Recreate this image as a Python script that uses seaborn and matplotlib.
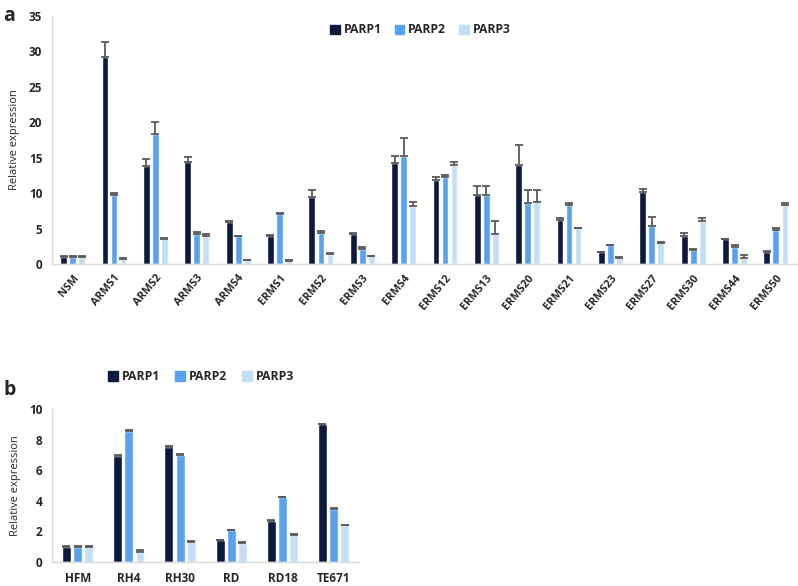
import matplotlib
matplotlib.use("Agg")
import matplotlib.pyplot as plt
import numpy as np
import pandas as pd
import seaborn as sns

# ---------------------------------------------------------------------------
# Data
# ---------------------------------------------------------------------------
SERIES = ["PARP1", "PARP2", "PARP3"]
COLORS = ["#0c1a3e", "#5aa2f0", "#c4def6"]

# panel a: tumour samples
samples_a = ["NSM", "ARMS1", "ARMS2", "ARMS3", "ARMS4", "ERMS1", "ERMS2", "ERMS3",
             "ERMS4", "ERMS12", "ERMS13", "ERMS20", "ERMS21", "ERMS23", "ERMS27",
             "ERMS30", "ERMS44", "ERMS50"]
parp1_a = [1.0, 29.2, 13.8, 14.4, 6.0, 4.0, 9.5, 4.3, 14.2, 11.9, 9.8, 14.0, 6.2,
           1.7, 10.2, 4.0, 3.5, 1.8]
parp2_a = [1.0, 9.7, 18.4, 4.2, 3.95, 7.1, 4.4, 2.2, 15.3, 12.3, 9.8, 8.6, 8.3,
           2.7, 5.4, 2.0, 2.45, 4.85]
parp3_a = [1.0, 0.75, 3.5, 4.05, 0.6, 0.5, 1.5, 1.15, 8.2, 14.0, 4.2, 8.8, 5.1,
           0.9, 3.0, 6.1, 0.9, 8.3]
err1_a = [0.15, 2.1, 1.1, 0.75, 0.05, 0.15, 0.95, 0.15, 1.1, 0.45, 1.25, 2.75, 0.3,
          0.1, 0.45, 0.45, 0.1, 0.05]
err2_a = [0.15, 0.3, 1.6, 0.3, 0.05, 0.1, 0.3, 0.2, 2.5, 0.3, 1.25, 1.9, 0.3,
          0.05, 1.3, 0.1, 0.28, 0.33]
err3_a = [0.1, 0.12, 0.15, 0.15, 0.05, 0.05, 0.05, 0.05, 0.6, 0.45, 1.9, 1.6, 0.05,
          0.1, 0.1, 0.4, 0.38, 0.3]

# panel b: cell lines
samples_b = ["HFM", "RH4", "RH30", "RD", "RD18", "TE671"]
parp1_b = [1.0, 6.96, 7.5, 1.42, 2.71, 8.99]
parp2_b = [1.0, 8.58, 6.98, 2.06, 4.22, 3.46]
parp3_b = [1.0, 0.65, 1.31, 1.27, 1.79, 2.41]
err1_b = [0.04, 0.06, 0.05, 0.04, 0.04, 0.06]
err2_b = [0.03, 0.03, 0.08, 0.06, 0.06, 0.04]
err3_b = [0.03, 0.12, 0.04, 0.04, 0.04, 0.04]

# ---------------------------------------------------------------------------
# Style
# ---------------------------------------------------------------------------
sns.set_theme(style="white")
plt.rcParams["font.family"] = ["Open Sans", "DejaVu Sans"]

GREY = "#d9d9d9"
ERR = "#5a5a5a"


def to_long(samples, values):
    frames = []
    for name, vals in zip(SERIES, values):
        frames.append(pd.DataFrame({"sample": samples, "gene": name, "value": vals}))
    return pd.concat(frames, ignore_index=True)


def draw_panel(ax, samples, values, errors, gap, capsize):
    df = to_long(samples, values)
    sns.barplot(data=df, x="sample", y="value", hue="gene", hue_order=SERIES,
                order=samples, palette=COLORS, width=0.655, gap=gap,
                errorbar=None, saturation=1, legend=False, ax=ax)
    # one-sided (upper) error bars, Excel style
    for cont, err in zip(ax.containers, errors):
        xs = [p.get_x() + p.get_width() / 2 for p in cont.patches]
        ys = [p.get_height() for p in cont.patches]
        ax.errorbar(xs, ys, yerr=[np.zeros(len(err)), err], fmt="none",
                    ecolor=ERR, elinewidth=1.3, capsize=capsize, capthick=1.3)
    for side in ["top", "right"]:
        ax.spines[side].set_visible(False)
    for side in ["left", "bottom"]:
        ax.spines[side].set_color(GREY)
        ax.spines[side].set_linewidth(1.0)
    ax.set_xlabel("")
    ax.set_ylabel("Relative expression", fontsize=8, labelpad=6)
    ax.tick_params(axis="y", length=3, color=GREY, width=1, pad=4)
    ax.tick_params(axis="x", length=0)
    ax.set_xlim(-0.5, len(samples) - 0.5)


fig = plt.figure(figsize=(7.98, 5.86), dpi=100)

# panel a
ax_a = fig.add_axes([0.0652, 0.549, 0.933, 0.424])
draw_panel(ax_a, samples_a, [parp1_a, parp2_a, parp3_a],
           [err1_a, err2_a, err3_a], gap=0.25, capsize=2.6)
ax_a.set_ylim(0, 35)
ax_a.set_yticks(range(0, 36, 5))
ax_a.set_yticklabels([str(v) for v in range(0, 36, 5)], fontweight="bold", fontsize=8.5)
ax_a.set_xticks(range(len(samples_a)))
ax_a.set_xticklabels(samples_a, rotation=50, ha="right", rotation_mode="anchor",
                     fontweight="bold", fontsize=7.8)
ax_a.tick_params(axis="x", pad=6)

# panel b
ax_b = fig.add_axes([0.0652, 0.041, 0.385, 0.261])
draw_panel(ax_b, samples_b, [parp1_b, parp2_b, parp3_b],
           [err1_b, err2_b, err3_b], gap=0.2, capsize=3.2)
ax_b.set_ylim(0, 10)
ax_b.set_yticks(range(0, 11, 2))
ax_b.set_yticklabels([str(v) for v in range(0, 11, 2)], fontweight="bold", fontsize=8.5)
ax_b.set_xticks(range(len(samples_b)))
ax_b.set_xticklabels(samples_b, fontweight="bold", fontsize=8.5)
ax_b.tick_params(axis="x", pad=7)

# legends
handles = [plt.Rectangle((0, 0), 1, 1, color=c) for c in COLORS]
fig.legend(handles, SERIES, loc="center", bbox_to_anchor=(0.527, 0.949), ncol=3,
           frameon=False, handlelength=0.75, handleheight=0.75, handletextpad=0.35,
           columnspacing=1.1, prop={"weight": "bold", "size": 8.7})
fig.legend(handles, SERIES, loc="center", bbox_to_anchor=(0.252, 0.357), ncol=3,
           frameon=False, handlelength=0.8, handleheight=0.8, handletextpad=0.35,
           columnspacing=1.2, prop={"weight": "bold", "size": 8.8})

# panel letters
fig.text(0.004, 0.972, "a", fontsize=14, fontweight="bold", va="center", ha="left")
fig.text(0.004, 0.334, "b", fontsize=14, fontweight="bold", va="center", ha="left")

fig.savefig("out.png", dpi=100)
